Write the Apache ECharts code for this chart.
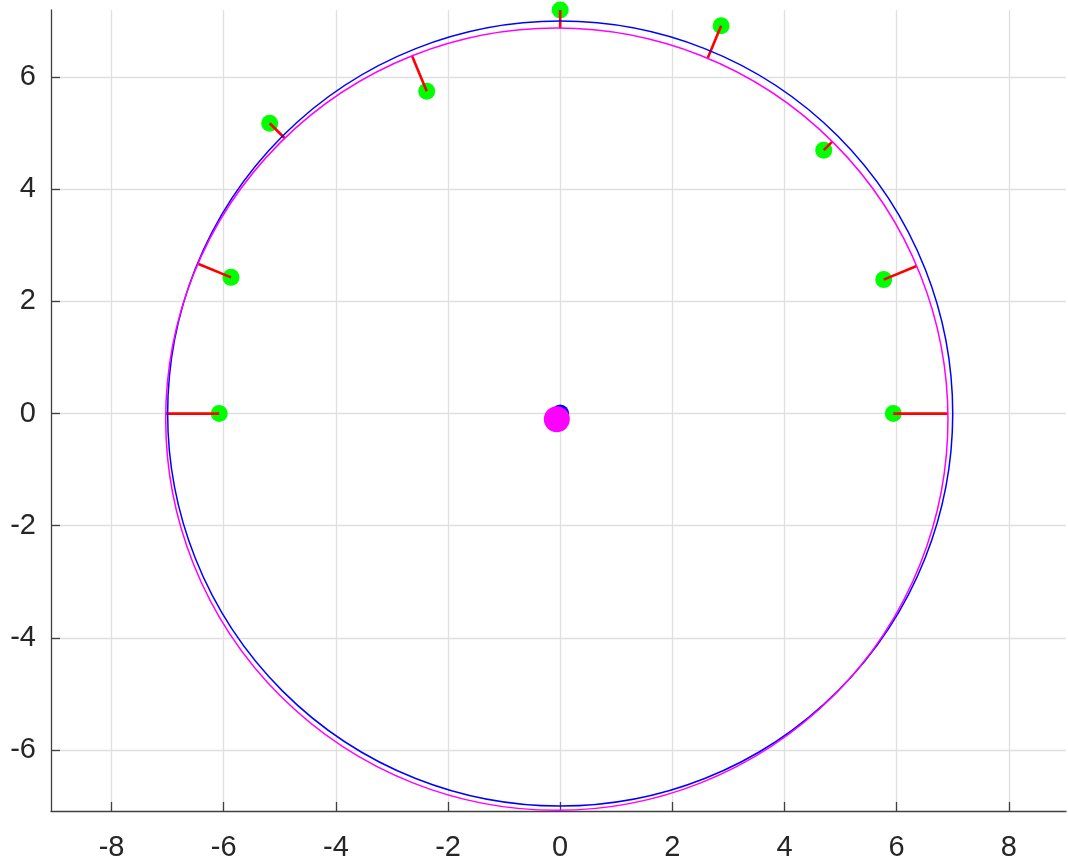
<!DOCTYPE html>
<html>
<head>
<meta charset="utf-8">
<script src="https://cdn.jsdelivr.net/npm/echarts@6/dist/echarts.min.js"></script>
<style>
html,body{margin:0;padding:0;background:#fff;}
#chart{width:1068px;height:865px;}
</style>
</head>
<body>
<div id="chart"></div>
<script>
const ptX = [5.94, 5.77, 4.70, 2.87, 0.00, -2.38, -5.18, -5.87, -6.08];
const ptY = [0.00, 2.39, 4.70, 6.92, 7.20, 5.75, 5.18, 2.43, 0.00];
// Reference circle (blue) and fitted circle (magenta): [cx, cy, r]
const refCircle = [0.00, 0.00, 7.00];
const fitCircle = [-0.06, -0.10, 6.975];
// Axis ranges and tick labels
const xRange = [-9.08, 9.02];
const yRange = [-7.09, 7.20];
const xTicks = [-8, -6, -4, -2, 0, 2, 4, 6, 8];
const yTicks = [-6, -4, -2, 0, 2, 4, 6];

// residual segments: from point along ray from origin to fitted circle
const segs = ptX.map((x, i) => {
  const y = ptY[i];
  const len = Math.hypot(x, y);
  const ux = x / len, uy = y / len;
  const cx = fitCircle[0], cy = fitCircle[1], R = fitCircle[2];
  const b = ux * cx + uy * cy;
  const t = b + Math.sqrt(b * b - (cx * cx + cy * cy) + R * R);
  return [x, y, ux * t, uy * t];
});

const axisColor = '#404040';
const gridColor = '#dfdfdf';
const labelStyle = {fontSize: 29, color: '#262626', fontFamily: 'Liberation Sans, Arial, sans-serif'};

function circleItem(color) {
  return function (params, api) {
    const c = api.coord([api.value(0), api.value(1)]);
    const r = api.size([api.value(2), 0])[0];
    return {
      type: 'circle',
      shape: {cx: c[0], cy: c[1], r: r},
      style: {fill: null, stroke: color, lineWidth: 1.5}
    };
  };
}

const chart = echarts.init(document.getElementById('chart'), null, {renderer: 'canvas'});
chart.setOption({
  animation: false,
  backgroundColor: '#ffffff',
  grid: {left: 51, right: 2, top: 10, bottom: 54, containLabel: false},
  xAxis: {
    type: 'value', min: xRange[0], max: xRange[1],
    axisLine: {show: true, onZero: false, lineStyle: {color: axisColor, width: 1.3}},
    axisTick: {show: true, inside: true, length: 9, customValues: xTicks, lineStyle: {color: axisColor, width: 1.3}},
    splitLine: {show: false},
    axisLabel: Object.assign({margin: 22, customValues: xTicks, formatter: v => String(v)}, labelStyle)
  },
  yAxis: {
    type: 'value', min: yRange[0], max: yRange[1],
    axisLine: {show: true, onZero: false, lineStyle: {color: axisColor, width: 1.3}},
    axisTick: {show: true, inside: true, length: 9, customValues: yTicks, lineStyle: {color: axisColor, width: 1.3}},
    splitLine: {show: false},
    axisLabel: Object.assign({margin: 15, customValues: yTicks, formatter: v => String(v),
      padding: [6, 0, 0, 0]}, labelStyle)
  },
  series: [
    {
      type: 'scatter', name: 'gridlines', data: [], z: 0,
      markLine: {
        silent: true, symbol: ['none', 'none'], animation: false, z: 0,
        label: {show: false},
        lineStyle: {color: gridColor, width: 1.3, type: 'solid'},
        emphasis: {disabled: true},
        data: xTicks.map(v => ({xAxis: v})).concat(yTicks.map(v => ({yAxis: v})))
      }
    },
    {
      type: 'scatter', name: 'points',
      data: ptX.map((x, i) => [x, ptY[i]]),
      symbol: 'circle', symbolSize: 17, clip: false,
      itemStyle: {color: '#00ff00', opacity: 1},
      z: 12
    },
    {
      type: 'custom', name: 'residuals',
      data: segs, clip: false,
      encode: {x: [0, 2], y: [1, 3]},
      renderItem: function (params, api) {
        const p1 = api.coord([api.value(0), api.value(1)]);
        const p2 = api.coord([api.value(2), api.value(3)]);
        return {
          type: 'line',
          shape: {x1: p1[0], y1: p1[1], x2: p2[0], y2: p2[1]},
          style: {stroke: '#ff0000', lineWidth: 2.6}
        };
      },
      z: 13
    },
    {
      type: 'custom', name: 'reference',
      data: [refCircle], clip: false,
      encode: {x: 0, y: 1},
      renderItem: circleItem('#0000ff'),
      z: 14
    },
    {
      type: 'scatter', name: 'refCenter',
      data: [[refCircle[0], refCircle[1]]],
      symbol: 'circle', symbolSize: 18,
      itemStyle: {color: '#0000ff', opacity: 1},
      z: 15
    },
    {
      type: 'custom', name: 'fit',
      data: [fitCircle], clip: false,
      encode: {x: 0, y: 1},
      renderItem: circleItem('#ff00ff'),
      z: 16
    },
    {
      type: 'scatter', name: 'fitCenter',
      data: [[fitCircle[0], fitCircle[1]]],
      symbol: 'circle', symbolSize: 26,
      itemStyle: {color: '#ff00ff', opacity: 1},
      z: 17
    }
  ]
});
</script>
</body>
</html>
